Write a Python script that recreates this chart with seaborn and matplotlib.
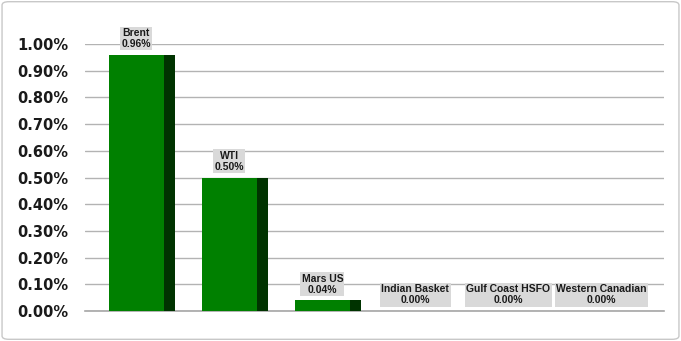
import matplotlib
matplotlib.use("Agg")
import matplotlib.pyplot as plt
import seaborn as sns
import pandas as pd
from matplotlib.patches import FancyBboxPatch
from matplotlib.ticker import FuncFormatter

categories = ["Brent", "WTI", "Mars US", "Indian Basket", "Gulf Coast HSFO", "Western Canadian"]
values = [0.96, 0.50, 0.04, 0.00, 0.00, 0.00]
yticks = [0.0, 0.1, 0.2, 0.3, 0.4, 0.5, 0.6, 0.7, 0.8, 0.9, 1.0]

df = pd.DataFrame({"cat": categories, "val": values})

sns.set_style("white")
plt.rcParams["font.family"] = ["DejaVu Sans"]

fig = plt.figure(figsize=(6.81, 3.41), dpi=100)
ax = fig.add_axes([85 / 681, 30 / 341, 579 / 681, 267 / 341])

# dark side (3D-ish depth) bars
sns.barplot(data=df, x="cat", y="val", color="#003300", width=0.71,
            saturation=1, ax=ax, zorder=3)
n_dark = len(ax.patches)
# front face bars
sns.barplot(data=df, x="cat", y="val", color="#008000", width=0.59,
            saturation=1, ax=ax, zorder=4)
dark = ax.patches[:n_dark]
front = ax.patches[n_dark:]
for d, f in zip(dark, front):
    f.set_x(d.get_x())
    f.set_edgecolor("none")
    d.set_edgecolor("none")

ax.set_xlim(-0.613, 5.613)
ax.set_ylim(0, 1.0)
ax.set_yticks(yticks)
ax.yaxis.set_major_formatter(FuncFormatter(lambda v, p: f"{v:.2f}%"))
ax.set_xticks([])
ax.set_xlabel("")
ax.set_ylabel("")
ax.grid(axis="y", color="#b3b3b3", linewidth=1.0, zorder=0)
ax.set_axisbelow(True)
for s in ["top", "right", "left"]:
    ax.spines[s].set_visible(False)
ax.spines["bottom"].set_color("#a6a6a6")
ax.spines["bottom"].set_linewidth(1.2)
ax.tick_params(axis="y", length=0, pad=12)
for t in ax.get_yticklabels():
    t.set_fontweight("bold")
    t.set_fontsize(10.5)
    t.set_color("#1a1a1a")

for i, (c, v) in enumerate(zip(categories, values)):
    ax.annotate(f"{c}\n{v:.2f}%", xy=(i - 0.06, v), xytext=(0, 4),
                textcoords="offset points", ha="center", va="bottom",
                fontsize=7.5, fontweight="bold", linespacing=1.15,
                family=["Liberation Sans", "DejaVu Sans"],
                color="#1a1a1a", zorder=6,
                bbox=dict(boxstyle="square,pad=0.12", facecolor="#d9d9d9",
                          edgecolor="none"))

# outer figure border
fig.patches.append(FancyBboxPatch((0.003, 0.005), 0.994, 0.99,
                                  boxstyle="round,pad=0,rounding_size=0.01",
                                  transform=fig.transFigure, fill=False,
                                  edgecolor="#c8c8c8", linewidth=1.0))

fig.savefig("out.png", dpi=100)
